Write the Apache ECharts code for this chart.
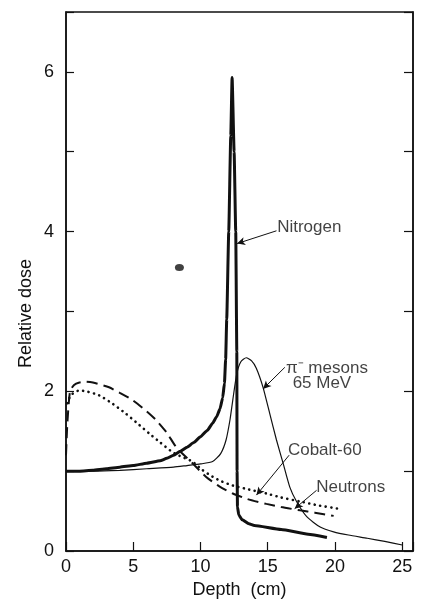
<!DOCTYPE html>
<html>
<head>
<meta charset="utf-8">
<script src="https://cdn.jsdelivr.net/npm/echarts@6/dist/echarts.min.js"></script>
<style>
  html, body { margin: 0; padding: 0; background: #fff; }
  #chart { width: 427px; height: 599px; }
</style>
</head>
<body>
<div id="chart"></div>
<script>
// depth (cm), relative dose
const nitrogen = [
  [0, 1.0], [1, 1.0], [2, 1.01], [3, 1.03], [4, 1.05], [5, 1.07], [6, 1.1],
  [7, 1.13], [7.5, 1.16], [8, 1.2], [8.5, 1.25], [9, 1.3], [9.5, 1.36],
  [10, 1.43], [10.5, 1.51], [10.9, 1.6], [11.2, 1.68], [11.45, 1.78],
  [11.65, 1.92], [11.78, 2.1], [11.87, 2.4], [11.95, 2.9],
  [12.1, 4.0], [12.25, 5.2], [12.35, 5.93], [12.5, 5.0], [12.62, 4.0],
  [12.7, 2.5], [12.72, 1.0], [12.75, 0.55], [12.85, 0.45], [13.1, 0.39],
  [13.6, 0.34], [14, 0.32], [16, 0.27], [18, 0.21], [19.4, 0.17]
]
const pion = [
  [0, 1.0], [2, 1.0], [4, 1.01], [6, 1.03], [8, 1.05], [9, 1.07], [10, 1.09],
  [10.9, 1.12], [11.5, 1.22], [11.9, 1.39], [12.2, 1.65], [12.4, 1.89],
  [12.7, 2.22], [13, 2.37], [13.4, 2.42], [13.8, 2.38], [14.15, 2.29],
  [14.65, 2.05], [15.15, 1.72], [15.65, 1.39], [16.14, 1.1], [16.64, 0.8],
  [17.14, 0.62], [17.9, 0.43], [18.9, 0.3], [19.9, 0.24], [21, 0.2],
  [22.4, 0.16], [23.7, 0.12], [25, 0.075]
]
const neutrons = [
  [0, 1.2], [0.1, 1.6], [0.3, 2.0], [0.6, 2.08], [1, 2.11], [1.5, 2.12],
  [2, 2.11], [3.2, 2.05], [4, 1.98], [4.95, 1.89], [6, 1.75], [6.7, 1.64],
  [7.5, 1.48], [8.2, 1.3], [9.4, 1.1], [10.4, 0.93], [11.4, 0.81],
  [12.4, 0.72], [13.5, 0.65], [14.9, 0.59], [16, 0.55], [17.4, 0.51],
  [18.5, 0.48], [19.9, 0.44]
]
const cobalt = [
  [0.1, 1.85], [0.35, 1.95], [0.97, 2.01], [1.5, 2.0], [2.46, 1.95],
  [3.5, 1.84], [4.45, 1.72], [5.3, 1.6], [6.2, 1.47], [7, 1.36], [7.9, 1.24],
  [8.6, 1.18], [9.4, 1.12], [10.1, 1.02], [10.9, 0.93], [11.6, 0.87],
  [12.4, 0.82], [13.6, 0.77], [14.9, 0.72], [16, 0.67], [17.4, 0.62],
  [18.8, 0.57], [20.25, 0.53]
]
const blob = [[8.43, 3.55]]
const xTicks = [0, 5, 10, 15, 20, 25]
const yTicks = [0, 2, 4, 6]

// callout text anchors and arrows (data coords)
const notes = [
  { name: 'Nitrogen', value: [15.7, 4.05] },
  { name: 'π⁻ mesons', value: [16.35, 2.29] },
  { name: '65 MeV', value: [16.85, 2.1] },
  { name: 'Cobalt-60', value: [16.5, 1.26] },
  { name: 'Neutrons', value: [18.6, 0.8] }
]
const arrows = [
  [[15.65, 4.01], [12.72, 3.85]],
  [[16.27, 2.30], [14.65, 2.03]],
  [[16.59, 1.2], [14.16, 0.7]],
  [[18.63, 0.76], [17.0, 0.53]]
]

const ink = '#111'
const font = 'Liberation Sans'

const chart = echarts.init(document.getElementById('chart'))
chart.setOption({
  animation: false,
  backgroundColor: '#fff',
  grid: {
    left: 66, right: 14, top: 12, bottom: 48, outerBoundsMode: 'none',
    show: true, borderColor: ink, borderWidth: 1.5
  },
  xAxis: {
    type: 'value', min: 0, max: 25.8, interval: 5,
    name: 'Depth  (cm)', nameLocation: 'middle', nameGap: 12,
    nameTextStyle: { color: ink, fontSize: 18, fontFamily: font },
    axisLine: { lineStyle: { color: ink, width: 1.5 } },
    axisTick: { inside: true, length: 9, lineStyle: { color: ink, width: 1.2 } },
    axisLabel: {
      color: ink, fontSize: 18, fontFamily: font, margin: 7,
      formatter: v => xTicks.includes(v) ? String(v) : ''
    },
    splitLine: { show: false }
  },
  yAxis: [{
    type: 'value', min: 0, max: 6.75, interval: 1,
    axisLine: { show: true, lineStyle: { color: ink, width: 1.5 } },
    axisTick: { show: true, inside: true, length: 8, lineStyle: { color: ink, width: 1.2 } },
    axisLabel: {
      color: ink, fontSize: 18, fontFamily: font, margin: 12,
      formatter: v => yTicks.includes(v) ? String(v) : ''
    },
    splitLine: { show: false }
  }, {
    type: 'value', min: 0, max: 6.75, interval: 1, position: 'right',
    axisLine: { show: true, lineStyle: { color: ink, width: 1.5 } },
    axisTick: { show: true, inside: true, length: 9, lineStyle: { color: ink, width: 1.2 } },
    axisLabel: { show: false },
    splitLine: { show: false }
  }],
  graphic: [{
    type: 'text', rotation: Math.PI / 2, x: 17, y: 368,
    style: { text: 'Relative dose', fill: ink, font: '18px "Liberation Sans"' }
  }],
  series: [
    {
      name: 'Nitrogen', type: 'line', data: nitrogen, showSymbol: false,
      smooth: 0.15, smoothMonotone: 'x',
      lineStyle: { color: ink, width: 3 }, z: 5
    },
    {
      name: 'pi mesons', type: 'line', data: pion, showSymbol: false, smooth: 0.2,
      lineStyle: { color: ink, width: 1.2 }
    },
    {
      name: 'Neutrons', type: 'line', data: neutrons, showSymbol: false, smooth: 0.2,
      lineStyle: { color: ink, width: 2, type: [11, 6] }
    },
    {
      name: 'Cobalt-60', type: 'line', data: cobalt, showSymbol: false, smooth: 0.2,
      lineStyle: { color: ink, width: 2.6, type: [0.1, 5.5], cap: 'round' }
    },
    {
      name: 'blob', type: 'scatter', data: blob, symbol: 'circle', symbolSize: [9, 7],
      itemStyle: { color: ink }
    },
    {
      name: 'notes', type: 'scatter', data: notes, symbolSize: 0, silent: true,
      label: {
        show: true, position: 'right', distance: 0, formatter: '{b}',
        color: ink, fontSize: 17, fontFamily: font
      },
      markLine: {
        silent: true, symbol: ['none', 'arrow'], symbolSize: [6, 8],
        label: { show: false },
        lineStyle: { color: ink, width: 1, type: 'solid' },
        data: arrows.map(a => [{ coord: a[0] }, { coord: a[1] }])
      }
    }
  ]
})
</script>
</body>
</html>
